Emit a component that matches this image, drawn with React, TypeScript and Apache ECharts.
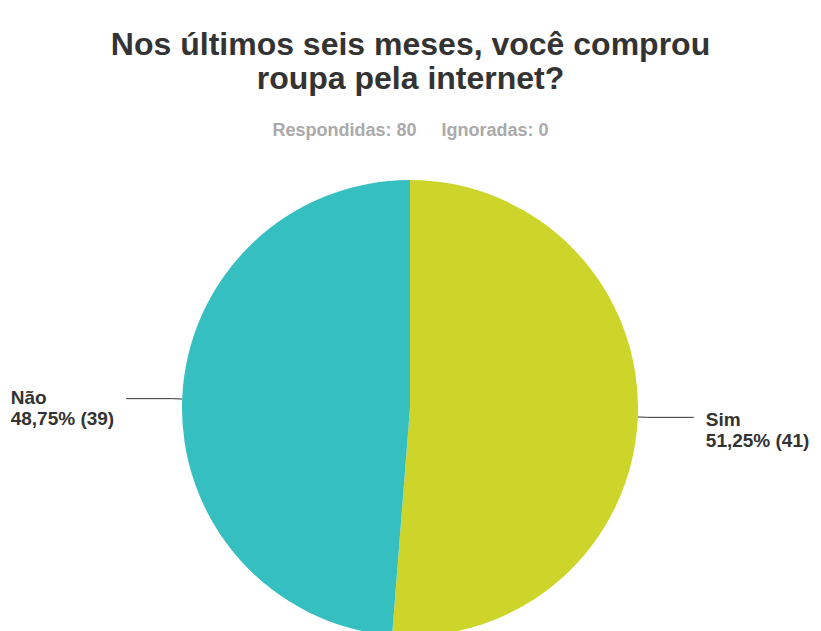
import React, { useEffect, useRef } from "react";
import * as echarts from "echarts";

const categories = ["Sim", "Não"];
const values = [41, 39];
const colors = ["#CDD52A", "#36BFC0"];
const answered = 80;
const skipped = 0;
const titleText = "Nos últimos seis meses, você comprou\nroupa pela internet?";

export default function App() {
  const ref = useRef<HTMLDivElement>(null);
  useEffect(() => {
    if (!ref.current) return;
    const chart = echarts.init(ref.current, undefined, { renderer: "svg" });
    const total = values.reduce((a, b) => a + b, 0);
    const font = "'Liberation Sans', Arial, Helvetica, sans-serif";
    const labelPad = [[26, 0, 0, 0], [18, 0, 0, 0]];
    chart.setOption({
      animation: false,
      backgroundColor: "#ffffff",
      title: [
        {
          text: titleText,
          left: "center",
          top: 22,
          textStyle: {
            fontFamily: font,
            fontSize: 32,
            fontWeight: "bold",
            color: "#333333",
            lineHeight: 34,
          },
        },
        {
          text: `Respondidas: ${answered}     Ignoradas: ${skipped}`,
          left: "center",
          top: 116,
          textStyle: {
            fontFamily: font,
            fontSize: 18,
            fontWeight: "bold",
            color: "#aaaaaa",
          },
        },
      ],
      series: [
        {
          type: "pie",
          center: [410, 408],
          radius: 228,
          startAngle: 90,
          clockwise: true,
          data: categories.map((c, i) => ({
            name: c,
            value: values[i],
            itemStyle: { color: colors[i] },
            label: { padding: labelPad[i] },
          })),
          label: {
            show: true,
            position: "outside",
            distanceToLabelLine: 12,
            formatter: (p: any) => {
              const pct = ((p.value / total) * 100).toFixed(2).replace(".", ",");
              return `{t|${p.name}}\n{t|${pct}% (${p.value})}`;
            },
            rich: {
              t: {
                fontFamily: font,
                fontSize: 19,
                fontWeight: "bold",
                color: "#333333",
                lineHeight: 21,
                align: "left",
              },
            },
          },
          labelLine: {
            show: true,
            length: 10,
            length2: 46,
            lineStyle: { color: "#333333", width: 1 },
          },
          emphasis: { disabled: true },
        },
      ],
    });
    return () => chart.dispose();
  }, []);
  return (
    <div
      ref={ref}
      style={{ position: "absolute", left: 0, top: 0, width: 821, height: 631 }}
    />
  );
}
